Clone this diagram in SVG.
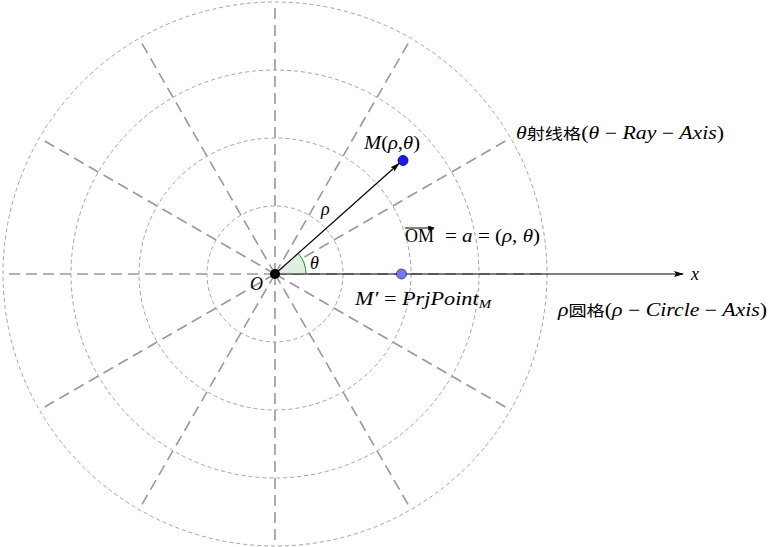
<svg xmlns="http://www.w3.org/2000/svg" width="771" height="547" viewBox="0 0 771 547">
<defs>
<style>
.circ{fill:none;stroke:#999;stroke-width:0.9;stroke-dasharray:4 3}
.ray{stroke:#999;stroke-width:1.6;stroke-dasharray:11 6;fill:none}
.ax{stroke:#000;stroke-width:1.2;fill:none}
.m{font-family:"Liberation Serif",serif;font-style:italic;font-size:18px;fill:#000}
.r{font-family:"Liberation Serif",serif;font-style:normal;font-size:18px;fill:#000}
.cjk{font-family:"Noto Sans CJK SC",sans-serif;font-style:normal;font-size:15px}
</style>
<marker id="ah" viewBox="0 0 10 6" refX="9" refY="3" markerWidth="10" markerHeight="6" markerUnits="userSpaceOnUse" orient="auto">
<path d="M0,0 L10,3 L0,6 L2,3 Z" fill="#000"/>
</marker>
<marker id="ah2" viewBox="0 0 8 6" refX="7" refY="3" markerWidth="7" markerHeight="5" markerUnits="userSpaceOnUse" orient="auto">
<path d="M0,0 L8,3 L0,6 Z" fill="#000"/>
</marker>
</defs>
<rect width="771" height="547" fill="#fff"/>
<g id="grid">
<circle class="circ" cx="275" cy="274" r="68"/>
<circle class="circ" cx="275" cy="274" r="136"/>
<circle class="circ" cx="275" cy="274" r="204"/>
<circle class="circ" cx="275" cy="274" r="272"/>
<g transform="translate(275 274)">
<line class="ray" x1="0" y1="0" x2="272" y2="0"/>
<line class="ray" x1="0" y1="0" x2="235.6" y2="-136"/>
<line class="ray" x1="0" y1="0" x2="136" y2="-235.6"/>
<line class="ray" x1="0" y1="0" x2="0" y2="-272"/>
<line class="ray" x1="0" y1="0" x2="-136" y2="-235.6"/>
<line class="ray" x1="0" y1="0" x2="-235.6" y2="-136"/>
<line class="ray" x1="0" y1="0" x2="-272" y2="0"/>
<line class="ray" x1="0" y1="0" x2="-235.6" y2="136"/>
<line class="ray" x1="0" y1="0" x2="-136" y2="235.6"/>
<line class="ray" x1="0" y1="0" x2="0" y2="272"/>
<line class="ray" x1="0" y1="0" x2="136" y2="235.6"/>
<line class="ray" x1="0" y1="0" x2="235.6" y2="136"/>
</g>
</g>
<g id="angle">
<path d="M275,274 L306,274 A31,31 0 0 0 298.1,253.3 Z" fill="#dff0df" stroke="none"/>
<path d="M306,274 A31,31 0 0 0 298.1,253.3" fill="none" stroke="#2a8a2a" stroke-width="1"/>
</g>
<g id="connectors">
<line class="ax" x1="275" y1="274" x2="683" y2="274" marker-end="url(#ah)"/>
<line class="ax" x1="275" y1="274" x2="399" y2="163.5" marker-end="url(#ah)"/>
</g>
<g id="node-O"><circle cx="275" cy="274" r="5" fill="#000"/></g>
<g id="node-M"><circle cx="403" cy="160.5" r="5" fill="#1a1aee" stroke="#00006a" stroke-width="0.8"/></g>
<g id="node-Mp"><circle cx="401.5" cy="274" r="5" fill="#7777ee" stroke="#30307a" stroke-width="0.8"/></g>
<g id="labels">
<text class="m" x="250" y="290">O</text>
<text class="m" x="691" y="280">x</text>
<text class="m" x="321" y="215">ρ</text>
<text class="m" x="310" y="269">θ</text>
<text class="m" x="364" y="149" textLength="56" lengthAdjust="spacingAndGlyphs">M<tspan class="r">(</tspan>ρ<tspan class="r">,</tspan>θ<tspan class="r">)</tspan></text>
<g id="om-label">
<text class="r" x="405" y="242" font-size="16">OM</text>
<line x1="405" y1="228" x2="434" y2="228" stroke="#000" stroke-width="1" marker-end="url(#ah2)"/>
<text class="r" x="445" y="242" textLength="95" lengthAdjust="spacingAndGlyphs">= <tspan class="m">a</tspan> = (<tspan class="m">ρ</tspan>, <tspan class="m">θ</tspan>)</text>
</g>
<text class="m" x="355" y="305" textLength="136" lengthAdjust="spacingAndGlyphs">M′ <tspan class="r">=</tspan> PrjPoint<tspan font-size="12" dy="3">M</tspan></text>
<text class="m" x="516" y="139" textLength="208" lengthAdjust="spacingAndGlyphs">θ<tspan class="cjk">射线格</tspan><tspan class="r">(</tspan>θ  <tspan class="r">−</tspan>  Ray  <tspan class="r">−</tspan>  Axis<tspan class="r">)</tspan></text>
<text class="m" x="558" y="316" textLength="209" lengthAdjust="spacingAndGlyphs">ρ<tspan class="cjk">圆格</tspan><tspan class="r">(</tspan>ρ  <tspan class="r">−</tspan>  Circle  <tspan class="r">−</tspan>  Axis<tspan class="r">)</tspan></text>
</g>
</svg>
